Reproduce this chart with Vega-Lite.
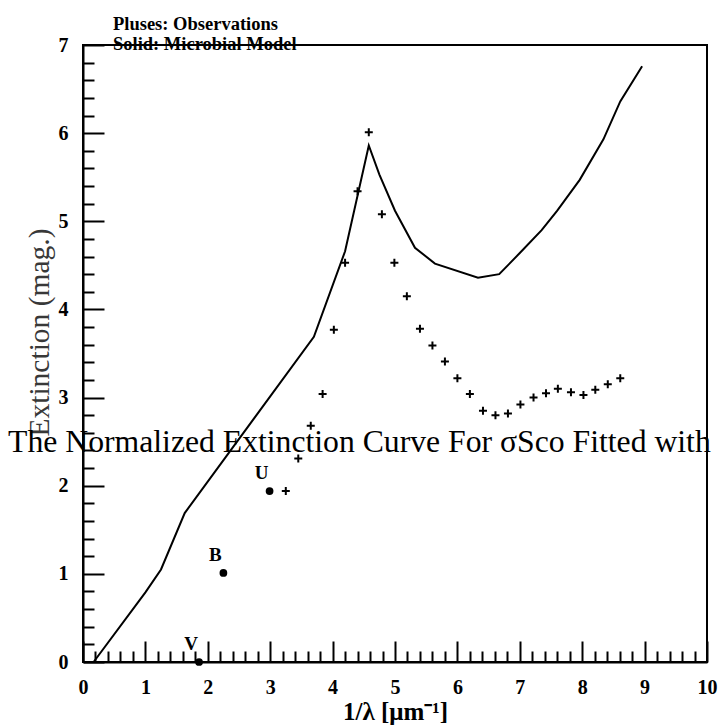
{
  "$schema": "https://vega.github.io/schema/vega-lite/v6.json",
  "autosize": {"type": "none"},
  "padding": {"left": 83, "top": 45, "right": 13, "bottom": 64},
  "width": 624,
  "height": 617,
  "background": "white",
  "config": {
    "view": {"stroke": "black", "strokeWidth": 2},
    "axis": {
      "domainColor": "black", "domainWidth": 2, "tickColor": "black", "tickWidth": 2,
      "grid": false, "labelFont": "Liberation Serif", "labelFontWeight": "bold",
      "labelFontSize": 20, "labelColor": "black", "labelFlush": false, "labelOverlap": false,
      "titleFont": "Liberation Serif", "titleColor": "black"
    }
  },
  "datasets": {
    "model": [
      {"x": 0.17, "y": 0}, {"x": 1.0, "y": 0.79}, {"x": 1.25, "y": 1.05}, {"x": 1.63, "y": 1.69},
      {"x": 3.7, "y": 3.69}, {"x": 4.2, "y": 4.66}, {"x": 4.58, "y": 5.86}, {"x": 4.75, "y": 5.53},
      {"x": 5.0, "y": 5.12}, {"x": 5.32, "y": 4.7}, {"x": 5.64, "y": 4.52}, {"x": 6.33, "y": 4.36},
      {"x": 6.67, "y": 4.4}, {"x": 7.0, "y": 4.64}, {"x": 7.35, "y": 4.9}, {"x": 7.6, "y": 5.12},
      {"x": 7.96, "y": 5.47}, {"x": 8.34, "y": 5.93}, {"x": 8.61, "y": 6.36}, {"x": 8.96, "y": 6.76}
    ],
    "obs": [
      {"x": 3.25, "y": 1.94}, {"x": 3.45, "y": 2.31}, {"x": 3.65, "y": 2.68}, {"x": 3.84, "y": 3.04},
      {"x": 4.02, "y": 3.77}, {"x": 4.2, "y": 4.53}, {"x": 4.4, "y": 5.34}, {"x": 4.58, "y": 6.01},
      {"x": 4.79, "y": 5.08}, {"x": 4.99, "y": 4.53}, {"x": 5.19, "y": 4.15}, {"x": 5.4, "y": 3.78},
      {"x": 5.6, "y": 3.59}, {"x": 5.8, "y": 3.41}, {"x": 6.0, "y": 3.22}, {"x": 6.2, "y": 3.04},
      {"x": 6.41, "y": 2.85}, {"x": 6.61, "y": 2.8}, {"x": 6.81, "y": 2.82}, {"x": 7.01, "y": 2.92},
      {"x": 7.22, "y": 3.0}, {"x": 7.42, "y": 3.05}, {"x": 7.61, "y": 3.1}, {"x": 7.82, "y": 3.06},
      {"x": 8.02, "y": 3.03}, {"x": 8.21, "y": 3.09}, {"x": 8.41, "y": 3.15}, {"x": 8.61, "y": 3.22}
    ],
    "bands": [
      {"x": 1.86, "y": 0.0, "band": "V"},
      {"x": 2.25, "y": 1.01, "band": "B"},
      {"x": 2.99, "y": 1.94, "band": "U"}
    ],
    "legendText": [
      {"x": 0.48, "y": 7.17, "text": "Pluses: Observations"},
      {"x": 0.48, "y": 6.94, "text": "Solid: Microbial Model"}
    ],
    "overlay": [
      {"x": 4.43, "y": 2.385, "text": "The Normalized Extinction Curve For σSco Fitted with"}
    ]
  },
  "resolve": {"axis": {"x": "independent", "y": "independent"}},
  "layer": [
    {
      "data": {"name": "model"},
      "mark": {"type": "line", "color": "black", "strokeWidth": 2, "clip": false},
      "encoding": {
        "x": {"field": "x", "type": "quantitative", "scale": {"domain": [0, 10], "nice": false, "zero": false},
          "axis": {"orient": "bottom", "values": [0,1,2,3,4,5,6,7,8,9,10], "tickSize": -21, "labelPadding": 36,
            "title": "1/λ [μm⁻¹]", "titleFontSize": 25, "titleFontWeight": "bold", "titlePadding": 2}},
        "y": {"field": "y", "type": "quantitative", "scale": {"domain": [0, 7], "nice": false, "zero": false},
          "axis": {"orient": "left", "values": [0,1,2,3,4,5,6,7], "tickSize": -21, "labelPadding": 36,
            "title": "Extinction (mag.)", "titleFontSize": 29.5, "titleFontWeight": "normal", "titleColor": "#383838", "titlePadding": 4, "titleY": 287}}
      }
    },
    {
      "data": {"name": "obs"},
      "mark": {"type": "point", "shape": "M-1,0H1M0,-1V1", "size": 64, "filled": false, "stroke": "black", "strokeWidth": 2, "opacity": 1},
      "encoding": {
        "x": {"field": "x", "type": "quantitative",
          "axis": {"orient": "bottom", "values": [0.2,0.4,0.6,0.8,1.2,1.4,1.6,1.8,2.2,2.4,2.6,2.8,3.2,3.4,3.6,3.8,4.2,4.4,4.6,4.8,5.2,5.4,5.6,5.8,6.2,6.4,6.6,6.8,7.2,7.4,7.6,7.8,8.2,8.4,8.6,8.8,9.2,9.4,9.6,9.8],
            "tickSize": -11, "labels": false, "domain": false, "title": null}},
        "y": {"field": "y", "type": "quantitative",
          "axis": {"orient": "left", "values": [0.2,0.4,0.6,0.8,1.2,1.4,1.6,1.8,2.2,2.4,2.6,2.8,3.2,3.4,3.6,3.8,4.2,4.4,4.6,4.8,5.2,5.4,5.6,5.8,6.2,6.4,6.6,6.8],
            "tickSize": -11, "labels": false, "domain": false, "title": null}}
      }
    },
    {
      "data": {"name": "bands"},
      "mark": {"type": "point", "shape": "circle", "filled": true, "size": 60, "color": "black", "opacity": 1, "clip": false},
      "encoding": {
        "x": {"field": "x", "type": "quantitative", "axis": null},
        "y": {"field": "y", "type": "quantitative", "axis": null}
      }
    },
    {
      "data": {"name": "bands"},
      "mark": {"type": "text", "font": "Liberation Serif", "fontWeight": "bold", "fontSize": 19, "color": "black", "dx": -8, "dy": -18, "baseline": "middle", "align": "center"},
      "encoding": {
        "x": {"field": "x", "type": "quantitative", "axis": null},
        "y": {"field": "y", "type": "quantitative", "axis": null},
        "text": {"field": "band"}
      }
    },
    {
      "data": {"name": "legendText"},
      "mark": {"type": "text", "font": "Liberation Serif", "fontWeight": "bold", "fontSize": 18.5, "color": "black", "align": "left", "baseline": "alphabetic", "clip": false},
      "encoding": {
        "x": {"field": "x", "type": "quantitative", "axis": null},
        "y": {"field": "y", "type": "quantitative", "axis": null},
        "text": {"field": "text"}
      }
    },
    {
      "data": {"name": "overlay"},
      "mark": {"type": "text", "font": "Liberation Serif", "fontSize": 31.7, "color": "black", "align": "center", "baseline": "alphabetic", "clip": false},
      "encoding": {
        "x": {"field": "x", "type": "quantitative", "axis": null},
        "y": {"field": "y", "type": "quantitative", "axis": null},
        "text": {"field": "text"}
      }
    }
  ]
}
